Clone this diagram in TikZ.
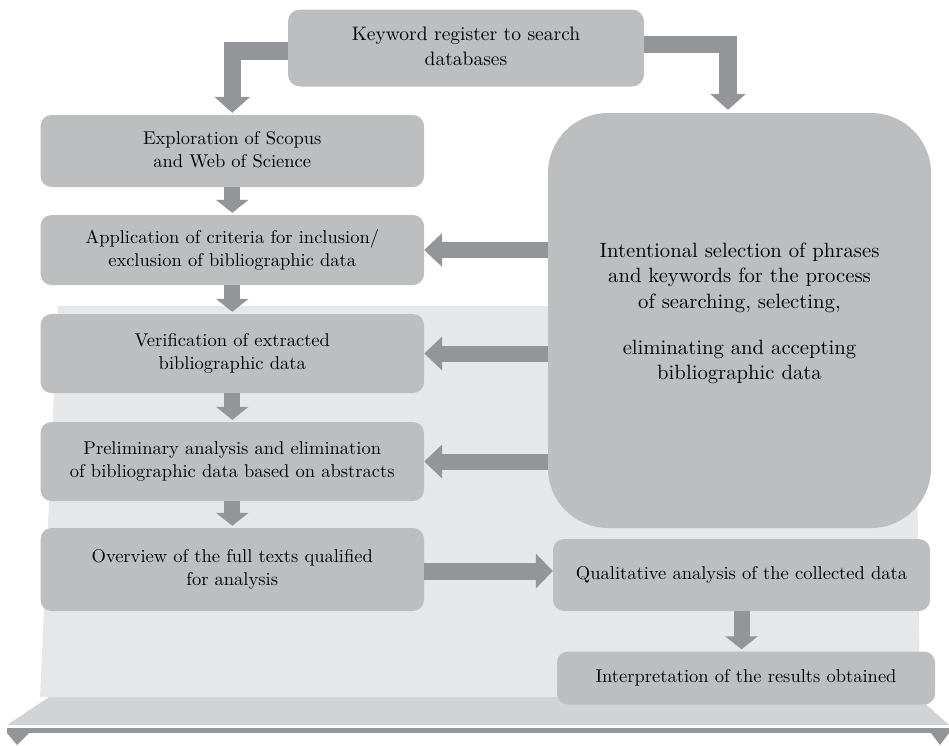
\documentclass[tikz,border=0pt]{standalone}
\usetikzlibrary{arrows.meta}
\definecolor{boxgray}{HTML}{BCBEC0}
\definecolor{arrowgray}{HTML}{939598}
\definecolor{lightgray}{HTML}{E6E7E8}
\definecolor{platgray}{HTML}{D1D3D4}
\newcommand{\boxtext}[3]{\scalebox{#1}{\fontsize{10}{#2}\selectfont\begin{tabular}{@{}c@{}}#3\end{tabular}}}
\tikzset{
  stepbox/.style={fill=boxgray, draw=none, rounded corners=11pt, align=center,
    minimum width=383.5pt, inner sep=0pt},
  downarrow/.style={draw=arrowgray, line width=16pt, shorten >=2pt,
    -{Triangle[width=32pt,length=13pt]}},
  sidearrow/.style={draw=arrowgray, line width=16pt,
    -{Triangle[width=33pt,length=18pt]}},
  elbowarrow/.style={draw=arrowgray, line width=17.5pt, line join=miter,
    -{Triangle[width=35pt,length=16pt]}},
}
\begin{document}
\begin{tikzpicture}[x=1pt,y=-1pt]
\useasboundingbox (0,0) rectangle (949,745);
% background layers
\fill[lightgray] (58,306) -- (915,306) -- (920,697) -- (40,697) -- cycle;
\fill[platgray] (49,697) -- (918,697) -- (949,725) -- (7,725) -- cycle;
\fill[arrowgray] (7,728) rectangle (949,733);
\fill[arrowgray] (7,733) -- (29,733) -- (17,745) -- cycle;
\fill[arrowgray] (931,733) -- (949,733) -- (940,745) -- cycle;
% nodes
\node[stepbox, minimum width=356pt, minimum height=77pt, rounded corners=12pt] (top) at (466,48)
  {\boxtext{1.95}{12.8}{Keyword register to search\\databases}};
\node[stepbox, minimum height=72pt] (expl) at (232.25,151)
  {\boxtext{1.85}{12.4}{Exploration of Scopus\\and Web of Science}};
\node[stepbox, minimum height=70pt] (app) at (232.25,250)
  {\boxtext{1.85}{12.4}{Application of criteria for inclusion/\\exclusion of bibliographic data}};
\node[stepbox, minimum height=79pt] (ver) at (232.25,353.5)
  {\boxtext{1.85}{12.4}{Verification of extracted\\bibliographic data}};
\node[stepbox, minimum height=79pt] (pre) at (232.25,461.5)
  {\boxtext{1.85}{12.4}{Preliminary analysis and elimination\\of bibliographic data based on abstracts}};
\node[stepbox, minimum height=83pt] (ovr) at (232.25,569.5)
  {\boxtext{1.85}{12.4}{Overview of the full texts qualified\\for analysis}};
\node[stepbox, minimum width=383pt, minimum height=415pt, rounded corners=60pt]
  (big) at (739.5,320.5) {};
\node[inner sep=0pt] (bigtext) at (739.5,313.4)
  {\boxtext{2.07}{12.3}{Intentional selection of phrases\\and keywords for the process\\of searching, selecting,\\[9.8pt]eliminating and accepting\\bibliographic data}};
\node[stepbox, minimum width=377pt, minimum height=72pt] (qual) at (741.5,575)
  {\boxtext{1.85}{12.4}{Qualitative analysis of the collected data}};
\node[stepbox, minimum width=378pt, minimum height=53pt] (interp) at (746,678)
  {\boxtext{1.85}{12.4}{Interpretation of the results obtained}};
% connectors
\draw[elbowarrow] ([yshift=-3pt]top.west) -| ([yshift=2pt]expl.north);
\draw[elbowarrow] ([yshift=3.5pt]top.east) -| ([xshift=-11.5pt,yshift=3pt]big.north);
\draw[downarrow] (expl.south) -- (app.north);
\draw[downarrow] (app.south) -- (ver.north);
\draw[downarrow] (ver.south) -- (pre.north);
\draw[downarrow] (pre.south) -- (ovr.north);
\draw[downarrow] (qual.south) -- (qual.south |- interp.north);
\draw[sidearrow] (big.west |- app.east) -- (app.east);
\draw[sidearrow] (big.west |- ver.east) -- (ver.east);
\draw[sidearrow] (big.west |- pre.east) -- (pre.east);
\coordinate (rs) at ([yshift=-1.5pt]ovr.east);
\draw[sidearrow, line width=17pt, -{Triangle[width=34pt,length=17pt]}] (rs) -- (rs -| qual.west);
\end{tikzpicture}
\end{document}
